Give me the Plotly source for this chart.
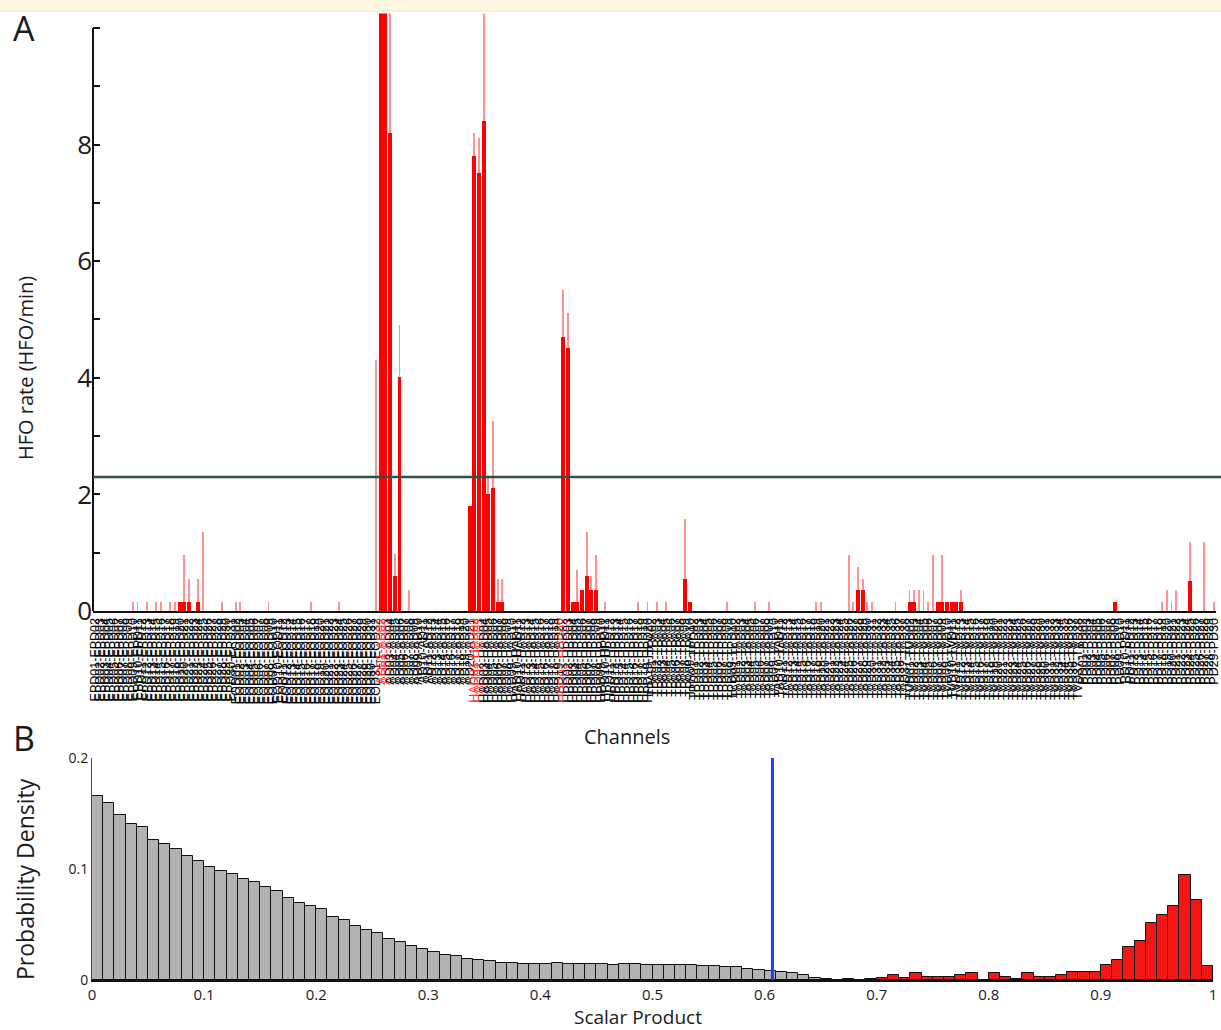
import plotly.graph_objects as go

# ---------------- Panel A data ----------------
electrodes = ["EPD", "EOD", "AD", "HAD", "HPD", "TPA", "TPD", "TAD", "TVD", "PD"]
n_pairs = [30, 31, 20, 19, 19, 9, 9, 37, 37, 29]
channels = [f"{e}{k:02d}-{e}{k + 1:02d}" for e, n in zip(electrodes, n_pairs) for k in range(1, n + 1)]

marked_channels = ["AD01-AD02", "AD02-AD03", "HAD01-HAD02", "HAD02-HAD03", "HPD01-HPD02"]

active_channels = [
    "EPD09-EPD10", "EPD10-EPD11", "EPD12-EPD13", "EPD14-EPD15", "EPD15-EPD16", "EPD17-EPD18",
    "EPD18-EPD19", "EPD19-EPD20", "EPD20-EPD21", "EPD21-EPD22", "EPD23-EPD24", "EPD24-EPD25",
    "EPD28-EPD29", "EOD01-EOD02", "EOD02-EOD03", "EOD08-EOD09", "EOD17-EOD18", "EOD23-EOD24",
    "EOD31-EOD32", "AD01-AD02", "AD02-AD03", "AD03-AD04", "AD04-AD05", "AD05-AD06", "AD07-AD08",
    "AD20-AD21", "HAD01-HAD02", "HAD02-HAD03", "HAD03-HAD04", "HAD04-HAD05", "HAD05-HAD06",
    "HAD06-HAD07", "HAD07-HAD08", "HPD01-HPD02", "HPD02-HPD03", "HPD03-HPD04", "HPD04-HPD05",
    "HPD05-HPD06", "HPD06-HPD07", "HPD07-HPD08", "HPD08-HPD09", "HPD10-HPD11", "HPD17-HPD18",
    "HPD19-HPD20", "TPA02-TPA03", "TPA04-TPA05", "TPA08-TPA09", "TPA09-TPA10", "TPD08-TPD09",
    "TAD05-TAD06", "TAD08-TAD09", "TAD18-TAD19", "TAD19-TAD20", "TAD25-TAD26", "TAD26-TAD27",
    "TAD27-TAD28", "TAD28-TAD29", "TAD29-TAD30", "TAD30-TAD31", "TAD35-TAD36", "TVD01-TVD02",
    "TVD02-TVD03", "TVD03-TVD04", "TVD04-TVD05", "TVD05-TVD06", "TVD06-TVD07", "TVD07-TVD08",
    "TVD08-TVD09", "TVD09-TVD10", "TVD10-TVD11", "TVD11-TVD12", "TVD12-TVD13", "PD08-PD09",
    "PD18-PD19", "PD19-PD20", "PD20-PD21", "PD21-PD22", "PD24-PD25", "PD27-PD28", "PD29-PD30",
]
rate_peak = [
    0.15, 0.15, 0.15, 0.15, 0.15, 0.15,
    0.15, 0.15, 0.95, 0.55, 0.55, 1.35,
    0.15, 0.15, 0.15, 0.15, 0.15, 0.15,
    4.3, 12, 12, 12, 0.97, 4.9, 0.35,
    1.8, 8.2, 8.1, 12, 2.3, 3.25,
    0.55, 0.55, 5.5, 5.1, 0.15, 0.7,
    0.35, 1.35, 0.6, 0.95, 0.15, 0.15,
    0.15, 0.15, 0.15, 1.57, 0.15, 0.15,
    0.15, 0.15, 0.15, 0.15, 0.95, 0.15,
    0.75, 0.55, 0.15, 0.15, 0.15, 0.35,
    0.35, 0.35, 0.35, 0.15, 0.95, 0.15,
    0.95, 0.15, 0.15, 0.15, 0.35, 0.15,
    0.15, 0.35, 0.15, 0.35, 1.17, 1.17, 0.15,
]
rate_mean = [
    0, 0, 0, 0, 0, 0,
    0, 0.15, 0.15, 0.15, 0.15, 0,
    0, 0, 0, 0, 0, 0,
    0, 12, 12, 8.2, 0.6, 4.0, 0,
    1.8, 7.8, 7.5, 8.4, 2.0, 2.1,
    0.15, 0.15, 4.7, 4.5, 0.15, 0.15,
    0.35, 0.6, 0.35, 0.35, 0, 0,
    0, 0, 0, 0.55, 0.15, 0,
    0, 0, 0, 0, 0, 0,
    0.35, 0.35, 0, 0, 0, 0.15,
    0.15, 0, 0, 0, 0, 0.15,
    0.15, 0.15, 0.15, 0.15, 0.15, 0.15,
    0, 0, 0, 0, 0.5, 0, 0,
]
hfo_threshold = 2.3
rate_ticks = [0, 2, 4, 6, 8]
rate_minor_ticks = [1, 3, 5, 7, 9, 10]
rate_axis_max = 10

# ---------------- Panel B data ----------------
bin_width = 0.01
null_bin_start = 0.0
null_density = [
    0.166, 0.1595, 0.1486, 0.1403, 0.1374, 0.1261, 0.1226, 0.1182, 0.1114, 0.1069,
    0.1019, 0.0984, 0.0951, 0.0910, 0.0880, 0.0836, 0.0806, 0.0739, 0.0694, 0.0665,
    0.0641, 0.0567, 0.0541, 0.0487, 0.0452, 0.0419, 0.0369, 0.0346, 0.0310, 0.0281,
    0.0251, 0.0227, 0.0215, 0.0192, 0.0177, 0.0168, 0.0154, 0.0151, 0.0148, 0.0145,
    0.0145, 0.0157, 0.0145, 0.0142, 0.0142, 0.0145, 0.0139, 0.0142, 0.0142, 0.0136,
    0.0133, 0.0136, 0.0136, 0.0139, 0.0130, 0.0127, 0.0118, 0.0118, 0.0095, 0.0089,
    0.0080, 0.0074, 0.0059, 0.0044, 0.0015, 0.0006, 0.0003, 0.0006, 0.0003,
]
hfo_bin_start = 0.69
hfo_density = [
    0.0012, 0.0015, 0.0044, 0.0015, 0.0059, 0.0024, 0.0024, 0.0024, 0.0044, 0.0059,
    0.0, 0.0059, 0.0024, 0.0009, 0.0059, 0.0024, 0.0030, 0.0044, 0.0068, 0.0068,
    0.0068, 0.0139, 0.0183, 0.0301, 0.0355, 0.0517, 0.0585, 0.0671, 0.0945, 0.0718,
    0.0127,
]
sp_cutoff = 0.607
sp_ticks = [0, 0.1, 0.2, 0.3, 0.4, 0.5, 0.6, 0.7, 0.8, 0.9, 1]
sp_tick_text = ["0", "0.1", "0.2", "0.3", "0.4", "0.5", "0.6", "0.7", "0.8", "0.9", "1"]
dens_ticks = [0, 0.1, 0.2]
dens_tick_text = ["0", "0.1", "0.2"]

# ---------------- Figure ----------------
W, H = 1221, 1030
TXT = "Open Sans"


def px_x(p):
    return p / W


def px_y(p):
    return 1 - p / H


fig = go.Figure()

fig.add_trace(go.Bar(
    x=active_channels, y=rate_peak, width=0.4, xaxis="x", yaxis="y",
    marker=dict(color="rgba(255,40,40,0.5)", line=dict(width=0)), showlegend=False,
    name="peak rate",
))
fig.add_trace(go.Bar(
    x=active_channels, y=rate_mean, width=0.85, xaxis="x", yaxis="y",
    marker=dict(color="#ff0000", line=dict(width=0)), showlegend=False,
    name="rate",
))

null_x = [null_bin_start + bin_width * (k + 0.5) for k in range(len(null_density))]
hfo_x = [hfo_bin_start + bin_width * (k + 0.5) for k in range(len(hfo_density))]
fig.add_trace(go.Bar(
    x=null_x, y=null_density, width=bin_width, xaxis="x2", yaxis="y2",
    marker=dict(color="#b3b3b3", line=dict(color="#111111", width=1)), showlegend=False,
))
fig.add_trace(go.Bar(
    x=hfo_x, y=hfo_density, width=bin_width, xaxis="x2", yaxis="y2",
    marker=dict(color="#f41515", line=dict(color="#111111", width=1)), showlegend=False,
))

tick_text = [
    f"<span style='color:#ff3030'>{c}</span>" if c in marked_channels else c for c in channels
]

fig.update_layout(
    width=W, height=H,
    margin=dict(l=0, r=0, t=0, b=0),
    paper_bgcolor="white", plot_bgcolor="rgba(0,0,0,0)",
    barmode="overlay", bargap=0,
    font=dict(family=TXT, color="#1a1a1a"),
    xaxis=dict(
        domain=[px_x(93), px_x(1216)], anchor="y", type="category",
        categoryorder="array", categoryarray=channels, range=[-0.5, len(channels) - 0.5],
        tickmode="array", tickvals=channels, ticktext=tick_text, tickangle=-90,
        tickfont=dict(family="Liberation Sans", size=12.5, color="#000000"),
        ticks="", showline=True, linecolor="#111111", linewidth=2, showgrid=False,
        zeroline=False, fixedrange=True, automargin=False,
    ),
    yaxis=dict(
        domain=[px_y(611), px_y(13.4)], anchor="x", range=[0, rate_axis_max * 1.025],
        tickmode="array", tickvals=rate_ticks, ticktext=[str(v) for v in rate_ticks],
        tickfont=dict(family=TXT, size=26, color="#1a1a1a"),
        ticks="inside", ticklen=7, tickwidth=2, tickcolor="#111111",
        minor=dict(tickmode="array", tickvals=rate_minor_ticks, ticks="inside",
                   ticklen=7, tickwidth=2, tickcolor="#111111"),
        showline=False, showgrid=False, zeroline=False, automargin=False,
    ),
    xaxis2=dict(
        domain=[px_x(92), px_x(1213)], anchor="y2", range=[0, 1],
        tickmode="array", tickvals=sp_ticks, ticktext=sp_tick_text,
        tickfont=dict(family=TXT, size=15, color="#1a1a1a"), ticks="",
        showline=True, linecolor="#111111", linewidth=2, showgrid=False, zeroline=False,
        automargin=False,
    ),
    yaxis2=dict(
        domain=[px_y(980), px_y(758)], anchor="x2", range=[0, 0.2],
        tickmode="array", tickvals=dens_ticks, ticktext=dens_tick_text,
        tickfont=dict(family=TXT, size=14, color="#1a1a1a"), ticks="",
        showline=True, linecolor="#444444", linewidth=1, showgrid=False, zeroline=False,
        automargin=False,
    ),
)

# page header band
fig.add_shape(type="rect", xref="paper", yref="paper", x0=0, x1=1, y0=px_y(11), y1=1,
              fillcolor="#fdf7e1", line=dict(width=0), layer="below")
fig.add_shape(type="line", xref="paper", yref="paper", x0=0, x1=1, y0=px_y(11), y1=px_y(11),
              line=dict(color="#efe6c8", width=1))

# y axis line of panel A (up to 10)
fig.add_shape(type="line", xref="x domain", yref="y", x0=0, x1=0, y0=0, y1=rate_axis_max,
              line=dict(color="#111111", width=2))
# threshold
fig.add_shape(type="line", xref="paper", yref="y", x0=px_x(93), x1=1, y0=hfo_threshold,
              y1=hfo_threshold, line=dict(color="#2f4f4f", width=2.5))
# cutoff in panel B
fig.add_shape(type="line", xref="x2", yref="y2 domain", x0=sp_cutoff, x1=sp_cutoff, y0=0, y1=1,
              line=dict(color="#1f3dff", width=3))

ann = [
    dict(text="A", x=px_x(11), y=px_y(28), xanchor="left", yanchor="middle", font=dict(size=34)),
    dict(text="B", x=px_x(11), y=px_y(738), xanchor="left", yanchor="middle", font=dict(size=34)),
    dict(text="HFO rate (HFO/min)", x=px_x(25), y=px_y(368), textangle=-90,
         xanchor="center", yanchor="middle", font=dict(size=20)),
    dict(text="Channels", x=px_x(627), y=px_y(736), xanchor="center", yanchor="middle",
         font=dict(size=20)),
    dict(text="Probability Density", x=px_x(25), y=px_y(879), textangle=-90,
         xanchor="center", yanchor="middle", font=dict(size=23)),
    dict(text="Scalar Product", x=px_x(638), y=px_y(1017), xanchor="center", yanchor="middle",
         font=dict(size=19)),
]
for a in ann:
    a.update(xref="paper", yref="paper", showarrow=False)
    a["font"].update(family=TXT, color="#1a1a1a")
    fig.add_annotation(**a)

fig.write_html("out.html", post_script="document.body.style.margin='0';",
               config={"displayModeBar": False})
